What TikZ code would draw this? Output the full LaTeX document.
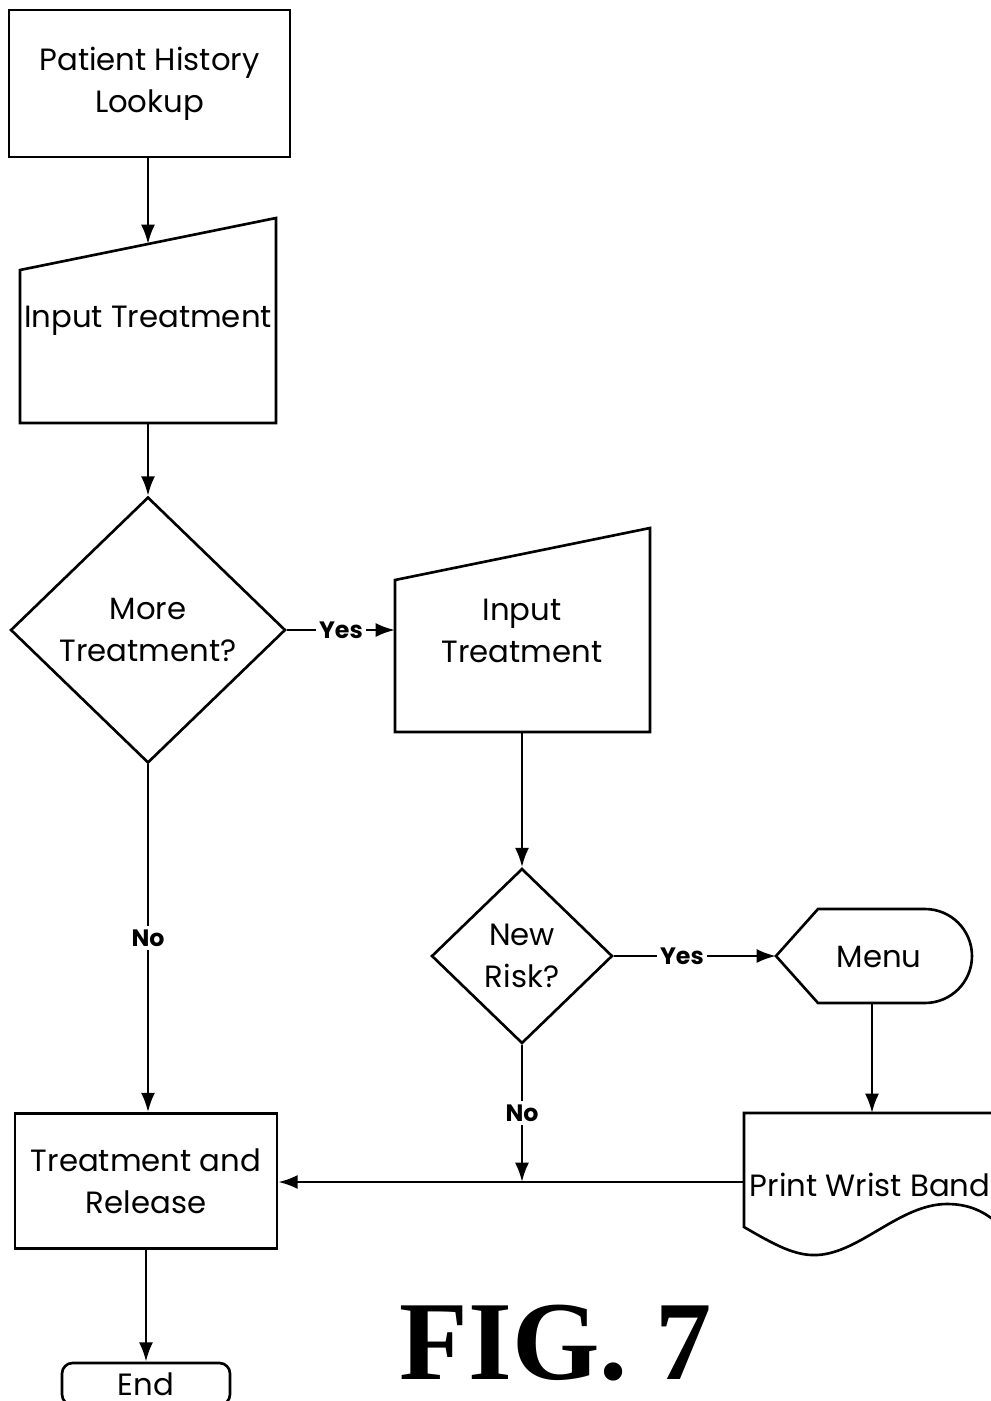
\documentclass[tikz,border=0pt]{standalone}
\usepackage{fontspec}
\setmainfont{Poppins}
\newfontfamily\figfont{Liberation Serif}
\usetikzlibrary{shapes.geometric,arrows.meta}

\tikzset{
  boxtext/.style={align=center, inner sep=0pt, font=\fontsize{17.5}{24}\selectfont},
  box/.style={boxtext, draw, rectangle},
  decision/.style={boxtext, draw, diamond},
  lbl/.style={fill=white, inner sep=2pt, font=\bfseries\fontsize{13.5}{15}\selectfont},
}

\begin{document}
\begin{tikzpicture}[x=0.02cm, y=-0.02cm, line width=1.5pt, >={Latex[length=11pt,width=8pt]}]
\clip (0,0) rectangle (991,1401);

% boxes
\node[box, minimum width=5.62cm, minimum height=2.94cm] (lookup) at (149.5,83.5) {Patient History\\Lookup};

\draw (20,270) -- (276,218) -- (276,423) -- (20,423) -- cycle;
\node[boxtext] (in1) at (148,321) {Input Treatment};
\coordinate (in1top) at (148,244);
\coordinate (in1bot) at (148,423);

\node[decision, minimum width=5.5cm, minimum height=5.32cm] (more) at (148,630) {More\\Treatment?};

\draw (395,580) -- (650,528) -- (650,732) -- (395,732) -- cycle;
\node[boxtext] (in2) at (522,631) {Input\\Treatment};
\coordinate (in2left) at (395,630);
\coordinate (in2bot) at (522,732);

\node[decision, minimum width=3.62cm, minimum height=3.5cm] (risk) at (522,956) {New\\Risk?};

\draw (776,956) -- (818,909) -- (925,909) arc[start angle=90, end angle=-90, radius=0.94cm] -- (818,1003) -- cycle;
\node[boxtext] (menu) at (879,957) {Menu};
\coordinate (menuleft) at (776,956);
\coordinate (menubot) at (872,1003);

\draw (1000,1113) -- (744,1113) -- (744,1227)
  .. controls (775,1245) and (795,1256) .. (817,1255)
  .. controls (860,1253) and (900,1204) .. (947,1204)
  .. controls (970,1204) and (985,1212) .. (1000,1225);
\node[boxtext] (band) at (870,1185) {Print Wrist Band};
\coordinate (bandtop) at (872,1113);
\coordinate (bandleft) at (744,1182);

\node[box, minimum width=5.24cm, minimum height=2.7cm] (release) at (146,1181) {Treatment and\\Release};
\node[box, rounded corners=6pt, minimum width=3.36cm, minimum height=0.84cm] (end) at (146,1384) {End};
\coordinate (join) at (522,1182);

\node[font=\figfont\bfseries\fontsize{64}{70}\selectfont] (fig) at (556,1343) {FIG. 7};

% connectors
\draw[->] (lookup.south -| in1top) -- (in1top);
\draw[->] (in1bot) -- (more.north);
\draw[->] (more.east) -- node[lbl]{Yes} (in2left);
\draw[->] (in2bot) -- (risk.north);
\draw[->] (risk.east) -- node[lbl, pos=.42]{Yes} (menuleft);
\draw[->] (menubot) -- (bandtop);
\draw[->] (bandleft) -- (release.east |- bandleft);
\draw[->] (risk.south) -- node[lbl]{No} (join);
\draw[->] (more.south) -- node[lbl]{No} (more.south |- release.north);
\draw[->] (release.south) -- (end.north);
\end{tikzpicture}
\end{document}
